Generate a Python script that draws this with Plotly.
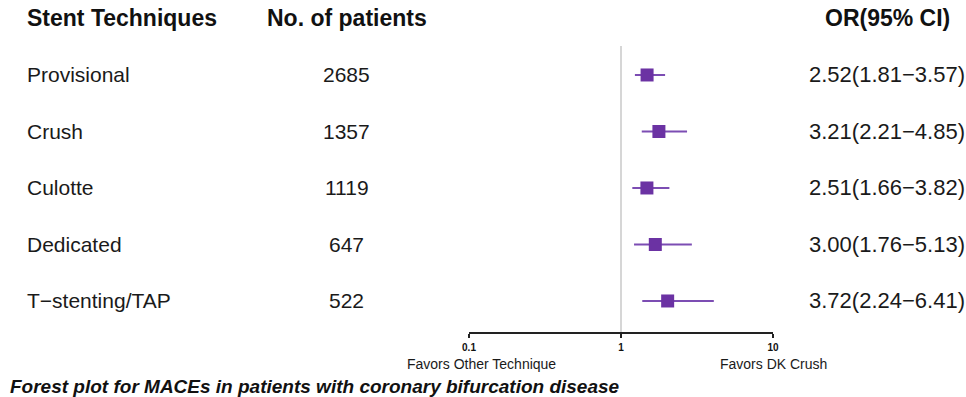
import plotly.graph_objects as go

# ---- data -------------------------------------------------------------
techniques = ["Provisional", "Crush", "Culotte", "Dedicated", "T\u2212stenting/TAP"]
patients = [2685, 1357, 1119, 647, 522]
odds_ratio = [2.52, 3.21, 2.51, 3.00, 3.72]
ci_low = [1.81, 2.21, 1.66, 1.76, 2.24]
ci_high = [3.57, 4.85, 3.82, 5.13, 6.41]
axis_ticks = [0.1, 1, 10]
axis_tick_text = ["0.1", "1", "10"]

# ---- page geometry ----------------------------------------------------
W, H = 966, 397
FONT = "Liberation Sans, Arial, Helvetica, sans-serif"
MARK = "#6B32A3"
WHISKER = "#7C4DB3"


def px(x):
    return x / W


def py(y):
    return 1 - y / H


rows = list(range(len(techniques), 0, -1))  # top row first

fig = go.Figure()

# confidence intervals + point estimates (linear OR scale)
fig.add_trace(go.Scatter(
    x=odds_ratio,
    y=rows,
    mode="markers",
    xaxis="x2",
    yaxis="y",
    marker=dict(symbol="square", size=13, color=MARK, line=dict(width=0)),
    error_x=dict(
        type="data",
        symmetric=False,
        array=[h - o for h, o in zip(ci_high, odds_ratio)],
        arrayminus=[o - l for o, l in zip(odds_ratio, ci_low)],
        color=WHISKER,
        thickness=2,
        width=0,
    ),
    hoverinfo="skip",
    showlegend=False,
))

# invisible trace so the log axis is drawn
fig.add_trace(go.Scatter(
    x=axis_ticks, y=[None] * len(axis_ticks), mode="markers",
    xaxis="x", yaxis="y", showlegend=False, hoverinfo="skip",
))

annotations = []
col_label_x = px(25)
col_n_x = px(346.5)
col_or_x = px(887)

# column headers
for text, x, anchor in [("Stent Techniques", col_label_x, "left"),
                        ("No. of patients", col_n_x, "center"),
                        ("OR(95% CI)", col_or_x, "center")]:
    annotations.append(dict(
        text=f"<b>{text}</b>", x=x, y=py(18), xref="paper", yref="paper",
        xanchor=anchor, yanchor="middle", showarrow=False,
        font=dict(family=FONT, size=23, color="#111111"),
    ))

# table rows
for r, name, n, o, lo, hi in zip(rows, techniques, patients, odds_ratio, ci_low, ci_high):
    cells = [(name, col_label_x, "left", 21),
             (str(n), col_n_x, "center", 21),
             (f"{o:.2f}({lo:.2f}\u2212{hi:.2f})", col_or_x, "center", 22)]
    for text, x, anchor, size in cells:
        annotations.append(dict(
            text=text, x=x, y=r, xref="paper", yref="y",
            xanchor=anchor, yanchor="middle", showarrow=False,
            font=dict(family=FONT, size=size, color="#1a1a1a"),
        ))

# direction labels under the axis
for text, x in [("Favors Other Technique", 481), ("Favors DK Crush", 773)]:
    annotations.append(dict(
        text=text, x=px(x), y=py(364), xref="paper", yref="paper",
        xanchor="center", yanchor="middle", showarrow=False,
        font=dict(family=FONT, size=14, color="#1a1a1a"),
    ))

# caption
annotations.append(dict(
    text="<b><i>Forest plot for MACEs in patients with coronary bifurcation disease</i></b>",
    x=px(8), y=py(386), xref="paper", yref="paper",
    xanchor="left", yanchor="middle", showarrow=False,
    font=dict(family=FONT, size=19, color="#111111"),
))

# reference line at OR = 1
shapes = [dict(
    type="line", xref="x", yref="y domain", x0=1, x1=1, y0=0, y1=1,
    line=dict(color="#c8c8c8", width=1.5), layer="below",
)]

fig.update_layout(
    width=W, height=H,
    margin=dict(l=0, r=0, t=0, b=0, pad=0, autoexpand=False),
    paper_bgcolor="white", plot_bgcolor="white",
    showlegend=False,
    annotations=annotations,
    shapes=shapes,
    xaxis=dict(
        type="log", range=[-1, 1], domain=[px(469), px(773)],
        tickvals=axis_ticks, ticktext=axis_tick_text,
        ticks="outside", ticklen=4, tickwidth=1.5, tickcolor="#222222",
        showline=True, linecolor="#222222", linewidth=1.5,
        showgrid=False, zeroline=False, anchor="y",
        ticklabelstandoff=1, automargin=False,
        tickfont=dict(family=FONT, size=10, color="#111111", weight="bold"),
    ),
    xaxis2=dict(
        range=[-7.86, 9.86], overlaying="x", visible=False,
        showgrid=False, zeroline=False, automargin=False,
    ),
    yaxis=dict(
        range=[0.451, 5.513], domain=[py(332), py(46)],
        visible=False, showgrid=False, zeroline=False, automargin=False,
    ),
)

fig.write_html("out.html")
